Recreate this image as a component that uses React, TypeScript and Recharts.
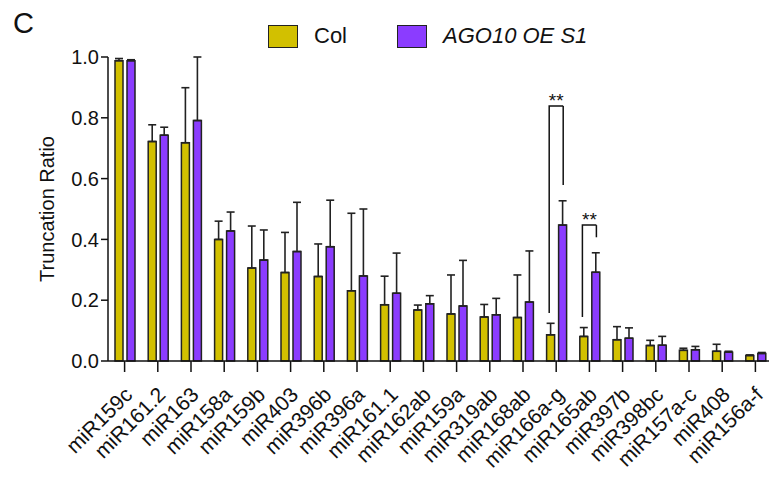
import React from 'react';
import { BarChart, Bar, XAxis, YAxis, ErrorBar, Legend, ReferenceLine, Label } from 'recharts';

const categories = ['miR159c', 'miR161.2', 'miR163', 'miR158a', 'miR159b', 'miR403', 'miR396b', 'miR396a', 'miR161.1', 'miR162ab', 'miR159a', 'miR319ab', 'miR168ab', 'miR166a-g', 'miR165ab', 'miR397b', 'miR398bc', 'miR157a-c', 'miR408', 'miR156a-f'];
const colValues = [0.988, 0.722, 0.718, 0.4, 0.306, 0.291, 0.278, 0.231, 0.185, 0.168, 0.155, 0.145, 0.143, 0.086, 0.081, 0.07, 0.051, 0.035, 0.032, 0.018];
const colErrors = [0.007, 0.055, 0.181, 0.06, 0.138, 0.132, 0.107, 0.255, 0.094, 0.016, 0.128, 0.041, 0.14, 0.038, 0.029, 0.043, 0.017, 0.007, 0.023, 0.002];
const agoValues = [0.988, 0.743, 0.791, 0.428, 0.332, 0.36, 0.376, 0.28, 0.223, 0.188, 0.181, 0.152, 0.194, 0.447, 0.292, 0.075, 0.052, 0.037, 0.029, 0.025];
const agoErrors = [0.003, 0.026, 0.209, 0.062, 0.099, 0.162, 0.153, 0.22, 0.132, 0.027, 0.15, 0.054, 0.168, 0.08, 0.064, 0.034, 0.029, 0.011, 0.003, 0.003];
const yTicks = [0, 0.2, 0.4, 0.6, 0.8, 1.0];

const sigCategories = ['miR166a-g', 'miR165ab'];
const sigTop = [0.839, 0.447];
const sigLeftBottom = [0.158, 0.145];
const sigRightBottom = [0.579, 0.407];
const sigLabels = ['**', '**'];

const seriesNames = ['Col', 'AGO10 OE S1'];
const COL_COLOR = '#D2C000';
const AGO_COLOR = '#8B3CFF';

const data = categories.map((c, i) => ({
  name: c,
  col: colValues[i],
  ago: agoValues[i],
  colErr: [0, colErrors[i]],
  agoErr: [0, agoErrors[i]],
}));

const FONT = '"Liberation Sans", Arial, Helvetica, sans-serif';

const XTick = (props: any) => {
  const { x, y, payload } = props;
  const tx = x + 9;
  const ty = y + 22;
  return (
    <text x={tx} y={ty} textAnchor="end" transform={`rotate(-45, ${tx}, ${ty})`} fontSize={21} fontFamily={FONT} fill="#111">
      {payload.value}
    </text>
  );
};

const legendLeft: Record<string, number> = { col: 0, ago: 129 };

const renderLegend = (props: any) => {
  const { payload } = props;
  return (
    <div style={{ position: 'relative', width: 500, height: 40 }}>
      {(payload || []).map((entry: any, i: number) => {
        const key = entry.dataKey;
        return (
          <div key={i} style={{ position: 'absolute', left: legendLeft[key] ?? 0, top: 0, display: 'flex', alignItems: 'center' }}>
            <div style={{ width: 28, height: 21, background: entry.color, border: '1.5px solid #222' }} />
            <span style={{ marginLeft: 16, fontFamily: FONT, fontSize: 22, color: '#111', fontStyle: key === 'ago' ? 'italic' : 'normal', whiteSpace: 'nowrap' }}>
              {entry.value}
            </span>
          </div>
        );
      })}
    </div>
  );
};

const makeLeftShape = (label: string) => (props: any) => {
  const { x1, y1, y2 } = props;
  const lx = x1 - 7;
  const rx = x1 + 7;
  const top = Math.min(y1, y2);
  const bottom = Math.max(y1, y2);
  return (
    <g>
      <path d={`M${lx},${bottom} L${lx},${top} L${rx},${top}`} fill="none" stroke="#111" strokeWidth={1.5} />
      <text x={x1} y={top + 1} textAnchor="middle" fontSize={19} fontFamily={FONT} fill="#111">{label}</text>
    </g>
  );
};

const rightShape = (props: any) => {
  const { x1, y1, y2 } = props;
  const rx = x1 + 7;
  return <path d={`M${rx},${y1} L${rx},${y2}`} fill="none" stroke="#111" strokeWidth={1.5} />;
};

export default function App() {
  return (
    <div style={{ position: 'absolute', left: 0, top: 0, width: 769, height: 481, overflow: 'hidden', background: '#fff' }}>
      <div style={{ position: 'absolute', left: 13, top: 9, fontFamily: FONT, fontSize: 29, lineHeight: '29px', color: '#111' }}>C</div>
      <BarChart width={772} height={481} data={data} margin={{ top: 57, right: 0, bottom: 10, left: 0 }} barSize={8} barGap={4}>
        <XAxis
          dataKey="name"
          interval={0}
          tick={<XTick />}
          tickSize={11}
          axisLine={{ stroke: '#111', strokeWidth: 1.5 }}
          tickLine={{ stroke: '#111', strokeWidth: 1.5 }}
          height={110}
        />
        <YAxis
          domain={[0, 1]}
          ticks={yTicks}
          tickFormatter={(v: number) => v.toFixed(1)}
          width={108}
          tickSize={7}
          tick={{ fontSize: 20, fontFamily: FONT, fill: '#111' }}
          axisLine={{ stroke: '#111', strokeWidth: 1.5 }}
          tickLine={{ stroke: '#111', strokeWidth: 1.5 }}
        >
          <Label value="Truncation Ratio" angle={-90} position="insideLeft" offset={47} style={{ textAnchor: 'middle', fontSize: 20, fontFamily: FONT, fill: '#111' }} />
        </YAxis>
        <Legend
          layout="vertical"
          align="center"
          verticalAlign="middle"
          content={renderLegend}
          wrapperStyle={{ position: 'absolute', top: 23, left: 268, width: 500 }}
        />
        <Bar dataKey="col" name={seriesNames[0]} fill={COL_COLOR} stroke="#222" strokeWidth={1.5} isAnimationActive={false}>
          <ErrorBar dataKey="colErr" direction="y" width={4} stroke="#222" strokeWidth={1.6} />
        </Bar>
        <Bar dataKey="ago" name={seriesNames[1]} fill={AGO_COLOR} stroke="#222" strokeWidth={1.5} isAnimationActive={false}>
          <ErrorBar dataKey="agoErr" direction="y" width={4} stroke="#222" strokeWidth={1.6} />
        </Bar>
        {sigCategories.map((c, i) => (
          <ReferenceLine
            key={`l${i}`}
            segment={[{ x: c, y: sigLeftBottom[i] }, { x: c, y: sigTop[i] }]}
            shape={makeLeftShape(sigLabels[i])}
          />
        ))}
        {sigCategories.map((c, i) => (
          <ReferenceLine
            key={`r${i}`}
            segment={[{ x: c, y: sigRightBottom[i] }, { x: c, y: sigTop[i] }]}
            shape={rightShape}
          />
        ))}
      </BarChart>
    </div>
  );
}
